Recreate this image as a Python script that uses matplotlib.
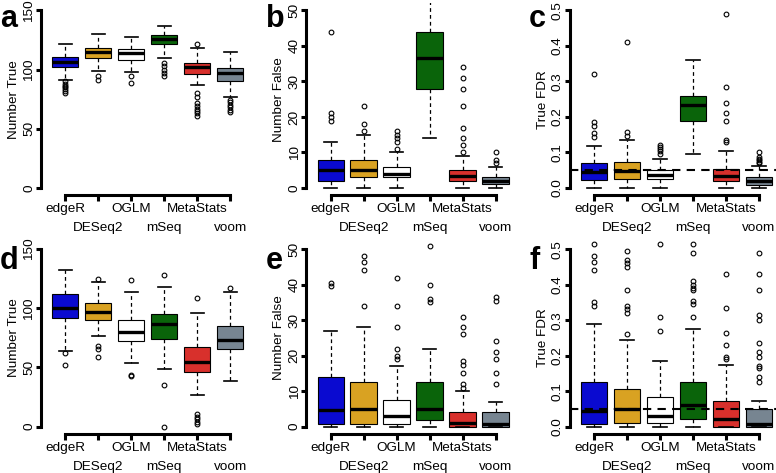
import matplotlib
matplotlib.use("Agg")
import matplotlib.pyplot as plt

plt.rcParams['font.family'] = ['Liberation Sans', 'DejaVu Sans']

methods = ['edgeR', 'DESeq2', 'OGLM', 'mSeq', 'MetaStats', 'voom']
colors = ['#0a0ad0', '#d9a222', '#ffffff', '#0a640a', '#d8302c', '#778591']

# ---- panel a: Number True (scenario 1)
a_whislo = [91, 99, 98, 110, 87, 77]
a_q1 = [102, 110, 108.5, 121.5, 96, 90]
a_med = [106.5, 114.5, 114, 126, 102, 97.5]
a_q3 = [110.5, 118, 117.5, 129.5, 106, 101.5]
a_whishi = [121.5, 130.5, 127.5, 136.5, 118, 114.5]
a_fliers = [[90, 88, 86.5, 85, 83.5, 82, 80.5], [95, 91.5], [94.5, 89],
            [105.5, 103, 100, 97.5, 94.5],
            [122, 80, 77, 71.5, 69, 67, 65, 63, 61],
            [74.5, 72.5, 70, 68, 66, 64]]

# ---- panel b: Number False (scenario 1)
b_whislo = [0, 0, 0, 14, 0, 0]
b_q1 = [2, 3, 3, 28, 2, 1]
b_med = [5, 5, 4, 36.5, 3.5, 2]
b_q3 = [8, 8, 6, 44, 5, 3]
b_whishi = [13, 15, 10, 60, 9, 6]
b_fliers = [[19, 20, 21, 44], [16, 18, 23], [11, 13, 14, 15, 16], [],
            [10, 12, 14, 17, 23, 28, 31, 34], [7, 8, 10]]

# ---- panel c: True FDR (scenario 1)
c_whislo = [0, 0, 0, 0.097, 0, 0]
c_q1 = [0.022, 0.024, 0.024, 0.188, 0.019, 0.009]
c_med = [0.046, 0.048, 0.037, 0.234, 0.035, 0.02]
c_q3 = [0.07, 0.073, 0.051, 0.26, 0.053, 0.032]
c_whishi = [0.118, 0.134, 0.081, 0.361, 0.104, 0.062]
c_fliers = [[0.145, 0.155, 0.175, 0.185, 0.32], [0.147, 0.158, 0.41],
            [0.095, 0.104, 0.11, 0.116, 0.12], [],
            [0.13, 0.136, 0.19, 0.21, 0.24, 0.285, 0.49],
            [0.07, 0.074, 0.078, 0.083, 0.087, 0.101]]

# ---- panel d: Number True (scenario 2)
d_whislo = [64, 77, 54, 49, 27, 38.5]
d_q1 = [91.5, 90.5, 72, 74, 46, 65.5]
d_med = [100.5, 97, 80, 86.5, 54.5, 73]
d_q3 = [112, 104.5, 90, 95.5, 67.5, 85]
d_whishi = [132, 122, 113.5, 118, 96, 114]
d_fliers = [[62, 52], [125, 68, 65.5, 59], [124, 44, 42.5], [128, 35, 0],
            [109, 10.5, 8.5, 6.5, 4, 2], [117]]

# ---- panel e: Number False (scenario 2)
e_whislo = [0, 0, 0, 0, 0, 0]
e_q1 = [0.8, 0.8, 0.8, 1.8, 0, 0]
e_med = [4.6, 5, 3, 5, 1, 0.7]
e_q3 = [14, 12.5, 7.5, 12.5, 4, 4]
e_whishi = [27, 28, 17, 22, 10, 7]
e_fliers = [[39.5, 40.5], [34, 44, 46.5, 48], [19, 20, 22, 28, 34, 42],
            [35, 36, 40, 51], [11, 12, 15, 17.5, 18.5, 26, 28, 31],
            [12, 15, 19, 21, 24, 35.5, 36.5]]

# ---- panel f: True FDR (scenario 2)
f_whislo = [0, 0, 0, 0, 0, 0]
f_q1 = [0.008, 0.01, 0.01, 0.021, 0, 0]
f_med = [0.044, 0.049, 0.031, 0.06, 0.022, 0.008]
f_q3 = [0.125, 0.106, 0.083, 0.125, 0.073, 0.051]
f_whishi = [0.29, 0.245, 0.186, 0.275, 0.175, 0.071]
f_fliers = [[0.34, 0.35, 0.44, 0.465, 0.48, 0.515],
            [0.26, 0.32, 0.33, 0.34, 0.385, 0.45, 0.46, 0.47, 0.495],
            [0.27, 0.31, 0.515],
            [0.31, 0.345, 0.355, 0.385, 0.39, 0.40, 0.41, 0.49, 0.515],
            [0.19, 0.197, 0.23, 0.265, 0.333, 0.43],
            [0.125, 0.14, 0.165, 0.17, 0.195, 0.21, 0.235, 0.30, 0.315, 0.385, 0.43, 0.49]]

count_ticks = [0, 50, 100, 150]
false_ticks = [0, 10, 20, 30, 40, 50]
fdr_ticks = [0.0, 0.1, 0.2, 0.3, 0.4, 0.5]
fdr_labels = ['0.0', '0.1', '0.2', '0.3', '0.4', '0.5']
fdr_target = 0.05

panels = [
    ('a', 'Number True', (a_whislo, a_q1, a_med, a_q3, a_whishi, a_fliers), count_ticks, [str(t) for t in count_ticks], False),
    ('b', 'Number False', (b_whislo, b_q1, b_med, b_q3, b_whishi, b_fliers), false_ticks, [str(t) for t in false_ticks], False),
    ('c', 'True FDR', (c_whislo, c_q1, c_med, c_q3, c_whishi, c_fliers), fdr_ticks, fdr_labels, True),
    ('d', 'Number True', (d_whislo, d_q1, d_med, d_q3, d_whishi, d_fliers), count_ticks, [str(t) for t in count_ticks], False),
    ('e', 'Number False', (e_whislo, e_q1, e_med, e_q3, e_whishi, e_fliers), false_ticks, [str(t) for t in false_ticks], False),
    ('f', 'True FDR', (f_whislo, f_q1, f_med, f_q3, f_whishi, f_fliers), fdr_ticks, fdr_labels, True),
]

FW, FH = 776, 473
fig = plt.figure(figsize=(FW / 100, FH / 100), dpi=100)

lefts = [0.0525, 0.3947, 0.7340]
bottoms = [0.5875, 0.0829]
W, H = 0.2755, 0.4055
letter_base = [446, 204]

FS = 9.7
LW_AX = 2.2
for k, (letter, ylabel, arrs, yt, ytl, dashed) in enumerate(panels):
    r, c = divmod(k, 3)
    ax = fig.add_axes([lefts[c], bottoms[r], W, H])
    whislo, q1, med, q3, whishi, fliers = arrs
    stats = [dict(whislo=whislo[i], q1=q1[i], med=med[i], q3=q3[i],
                  whishi=whishi[i], fliers=fliers[i], label=methods[i])
             for i in range(len(methods))]
    bp = ax.bxp(stats, positions=range(1, 7), widths=0.8, capwidths=0.4,
                patch_artist=True, showfliers=True,
                boxprops=dict(edgecolor='black', linewidth=0.8),
                whiskerprops=dict(color='black', linewidth=0.9, linestyle=(0, (3, 2.5))),
                capprops=dict(color='black', linewidth=1.2),
                medianprops=dict(color='black', linewidth=2.4, solid_capstyle='butt'),
                flierprops=dict(marker='o', markersize=3.4, markerfacecolor='none',
                                markeredgecolor='black', markeredgewidth=0.8))
    for patch, col in zip(bp['boxes'], colors):
        patch.set_facecolor(col)
    for fl in bp['fliers']:
        fl.set_clip_on(False)
    top = yt[-1]
    ax.set_xlim(0.26, 6.74)
    ax.set_ylim(-0.04 * top, 1.04 * top)
    if dashed:
        ax.axhline(fdr_target, color='black', lw=1.5, ls=(0, (4, 3)), zorder=5)
    for s in ['top', 'right']:
        ax.spines[s].set_visible(False)
    ax.spines['left'].set_bounds(0, top)
    ax.spines['bottom'].set_bounds(1, 6)
    ax.spines['left'].set_linewidth(LW_AX)
    ax.spines['bottom'].set_linewidth(LW_AX)
    ax.set_yticks(yt, ytl)
    ax.tick_params(axis='y', labelrotation=90, length=3.8, width=LW_AX, pad=0.3, labelsize=FS)
    for lbl in ax.get_yticklabels():
        lbl.set_rotation_mode('anchor')
        lbl.set_ha('center')
        lbl.set_va('bottom')
    ax.set_xticks([1, 3, 5], [methods[0], methods[2], methods[4]])
    ax.set_xticks([2, 4, 6], [methods[1], methods[3], methods[5]], minor=True)
    ax.tick_params(axis='x', which='both', length=4.3, width=LW_AX, labelsize=FS)
    ax.tick_params(axis='x', which='major', pad=1.5)
    ax.tick_params(axis='x', which='minor', pad=15.2)
    ax.set_ylabel(ylabel, fontsize=FS)
    ax.yaxis.set_label_coords(-0.098, 0.5)
    axis_px = lefts[c] * FW
    fig.text((axis_px - 40.5) / FW, letter_base[r] / FH, letter, fontsize=22,
             fontweight='bold', ha='left', va='baseline')

fig.savefig('out.png', dpi=100)
